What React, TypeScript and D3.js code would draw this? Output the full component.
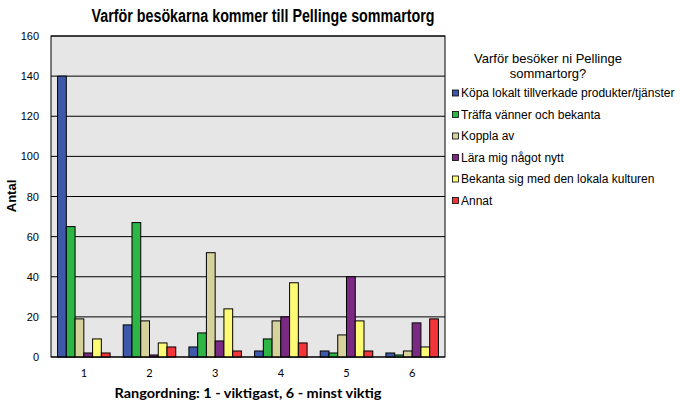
import React from "react";
import * as d3 from "d3";

const categories = ["1", "2", "3", "4", "5", "6"];
const seriesNames = [
  "Köpa lokalt tillverkade produkter/tjänster",
  "Träffa vänner och bekanta",
  "Koppla av",
  "Lära mig något nytt",
  "Bekanta sig med den lokala kulturen",
  "Annat",
];
const kopa = [140, 16, 5, 3, 3, 2];
const traffa = [65, 67, 12, 9, 2, 1];
const koppla = [19, 18, 52, 18, 11, 3];
const lara = [2, 1, 8, 20, 40, 17];
const bekanta = [9, 7, 24, 37, 18, 5];
const annat = [2, 5, 3, 7, 3, 19];
const seriesValues = [kopa, traffa, koppla, lara, bekanta, annat];
const colors = ["#3f59aa", "#2db646", "#d6d29c", "#7b2a83", "#fdfa75", "#f23539"];
const yTicks = [0, 20, 40, 60, 80, 100, 120, 140, 160];

export default function App() {
  const W = 680, H = 408;
  const left = 51, right = 445, top = 36, bottom = 357;
  const groupW = (right - left) / 6;
  const barW = groupW * 0.8 / 6;
  const y = d3.scaleLinear().domain([0, 160]).range([bottom, top]);
  const gx = d3.scaleBand().domain(categories).range([left, right]);

  return (
    <svg width={W} height={H} style={{ position: "absolute", left: 0, top: 0, background: "#fff" }}>
      <text x={263} y={22} textAnchor="middle" fontFamily="Arial, Liberation Sans" fontWeight="bold" fontSize={18}
        textLength={343} lengthAdjust="spacingAndGlyphs">Varför besökarna kommer till Pellinge sommartorg</text>
      <rect x={left} y={top} width={right - left} height={bottom - top} fill="#e6e6e6" />
      {yTicks.map((t) => (
        <g key={t}>
          <line x1={left} x2={right} y1={y(t)} y2={y(t)} stroke="#000" strokeWidth={1} />
          <text x={39} y={y(t) + 4} textAnchor="end" fontFamily="Arial, Liberation Sans" fontSize={11}>{t}</text>
        </g>
      ))}
      {categories.map((c, ci) => {
        const g0 = (gx(c) as number) + groupW * 0.1;
        return (
          <g key={c}>
            {seriesValues.map((vals, si) => (
              <rect key={si} x={g0 + si * barW} y={y(vals[ci])} width={barW} height={bottom - y(vals[ci])}
                fill={colors[si]} stroke="#000" strokeWidth={1} />
            ))}
            <text x={(gx(c) as number) + groupW / 2} y={377} textAnchor="middle" fontFamily="Lato, Open Sans" fontSize={11}>{c}</text>
          </g>
        );
      })}
      <rect x={left} y={top} width={right - left} height={bottom - top} fill="none" stroke="#000" strokeWidth={1} />
      <text x={248} y={398} textAnchor="middle" fontFamily="Lato, Open Sans" fontWeight="bold" fontSize={13}
        textLength={267} lengthAdjust="spacingAndGlyphs">Rangordning: 1 - viktigast, 6 - minst viktig</text>
      <text transform="translate(16,196) rotate(-90)" textAnchor="middle" fontFamily="Arial, Liberation Sans" fontWeight="bold" fontSize={13}>Antal</text>
      <text x={548} y={63} textAnchor="middle" fontFamily="Arial, Liberation Sans" fontSize={13}>Varför besöker ni Pellinge</text>
      <text x={548} y={78} textAnchor="middle" fontFamily="Arial, Liberation Sans" fontSize={13}>sommartorg?</text>
      {seriesNames.map((n, i) => {
        const cy = 93 + i * 21.5;
        return (
          <g key={n}>
            <rect x={452.5} y={cy - 3} width={6} height={6} fill={colors[i]} stroke="#000" strokeWidth={0.8} />
            <text x={461} y={cy + 4} fontFamily="Arial, Liberation Sans" fontSize={12}>{n}</text>
          </g>
        );
      })}
    </svg>
  );
}
